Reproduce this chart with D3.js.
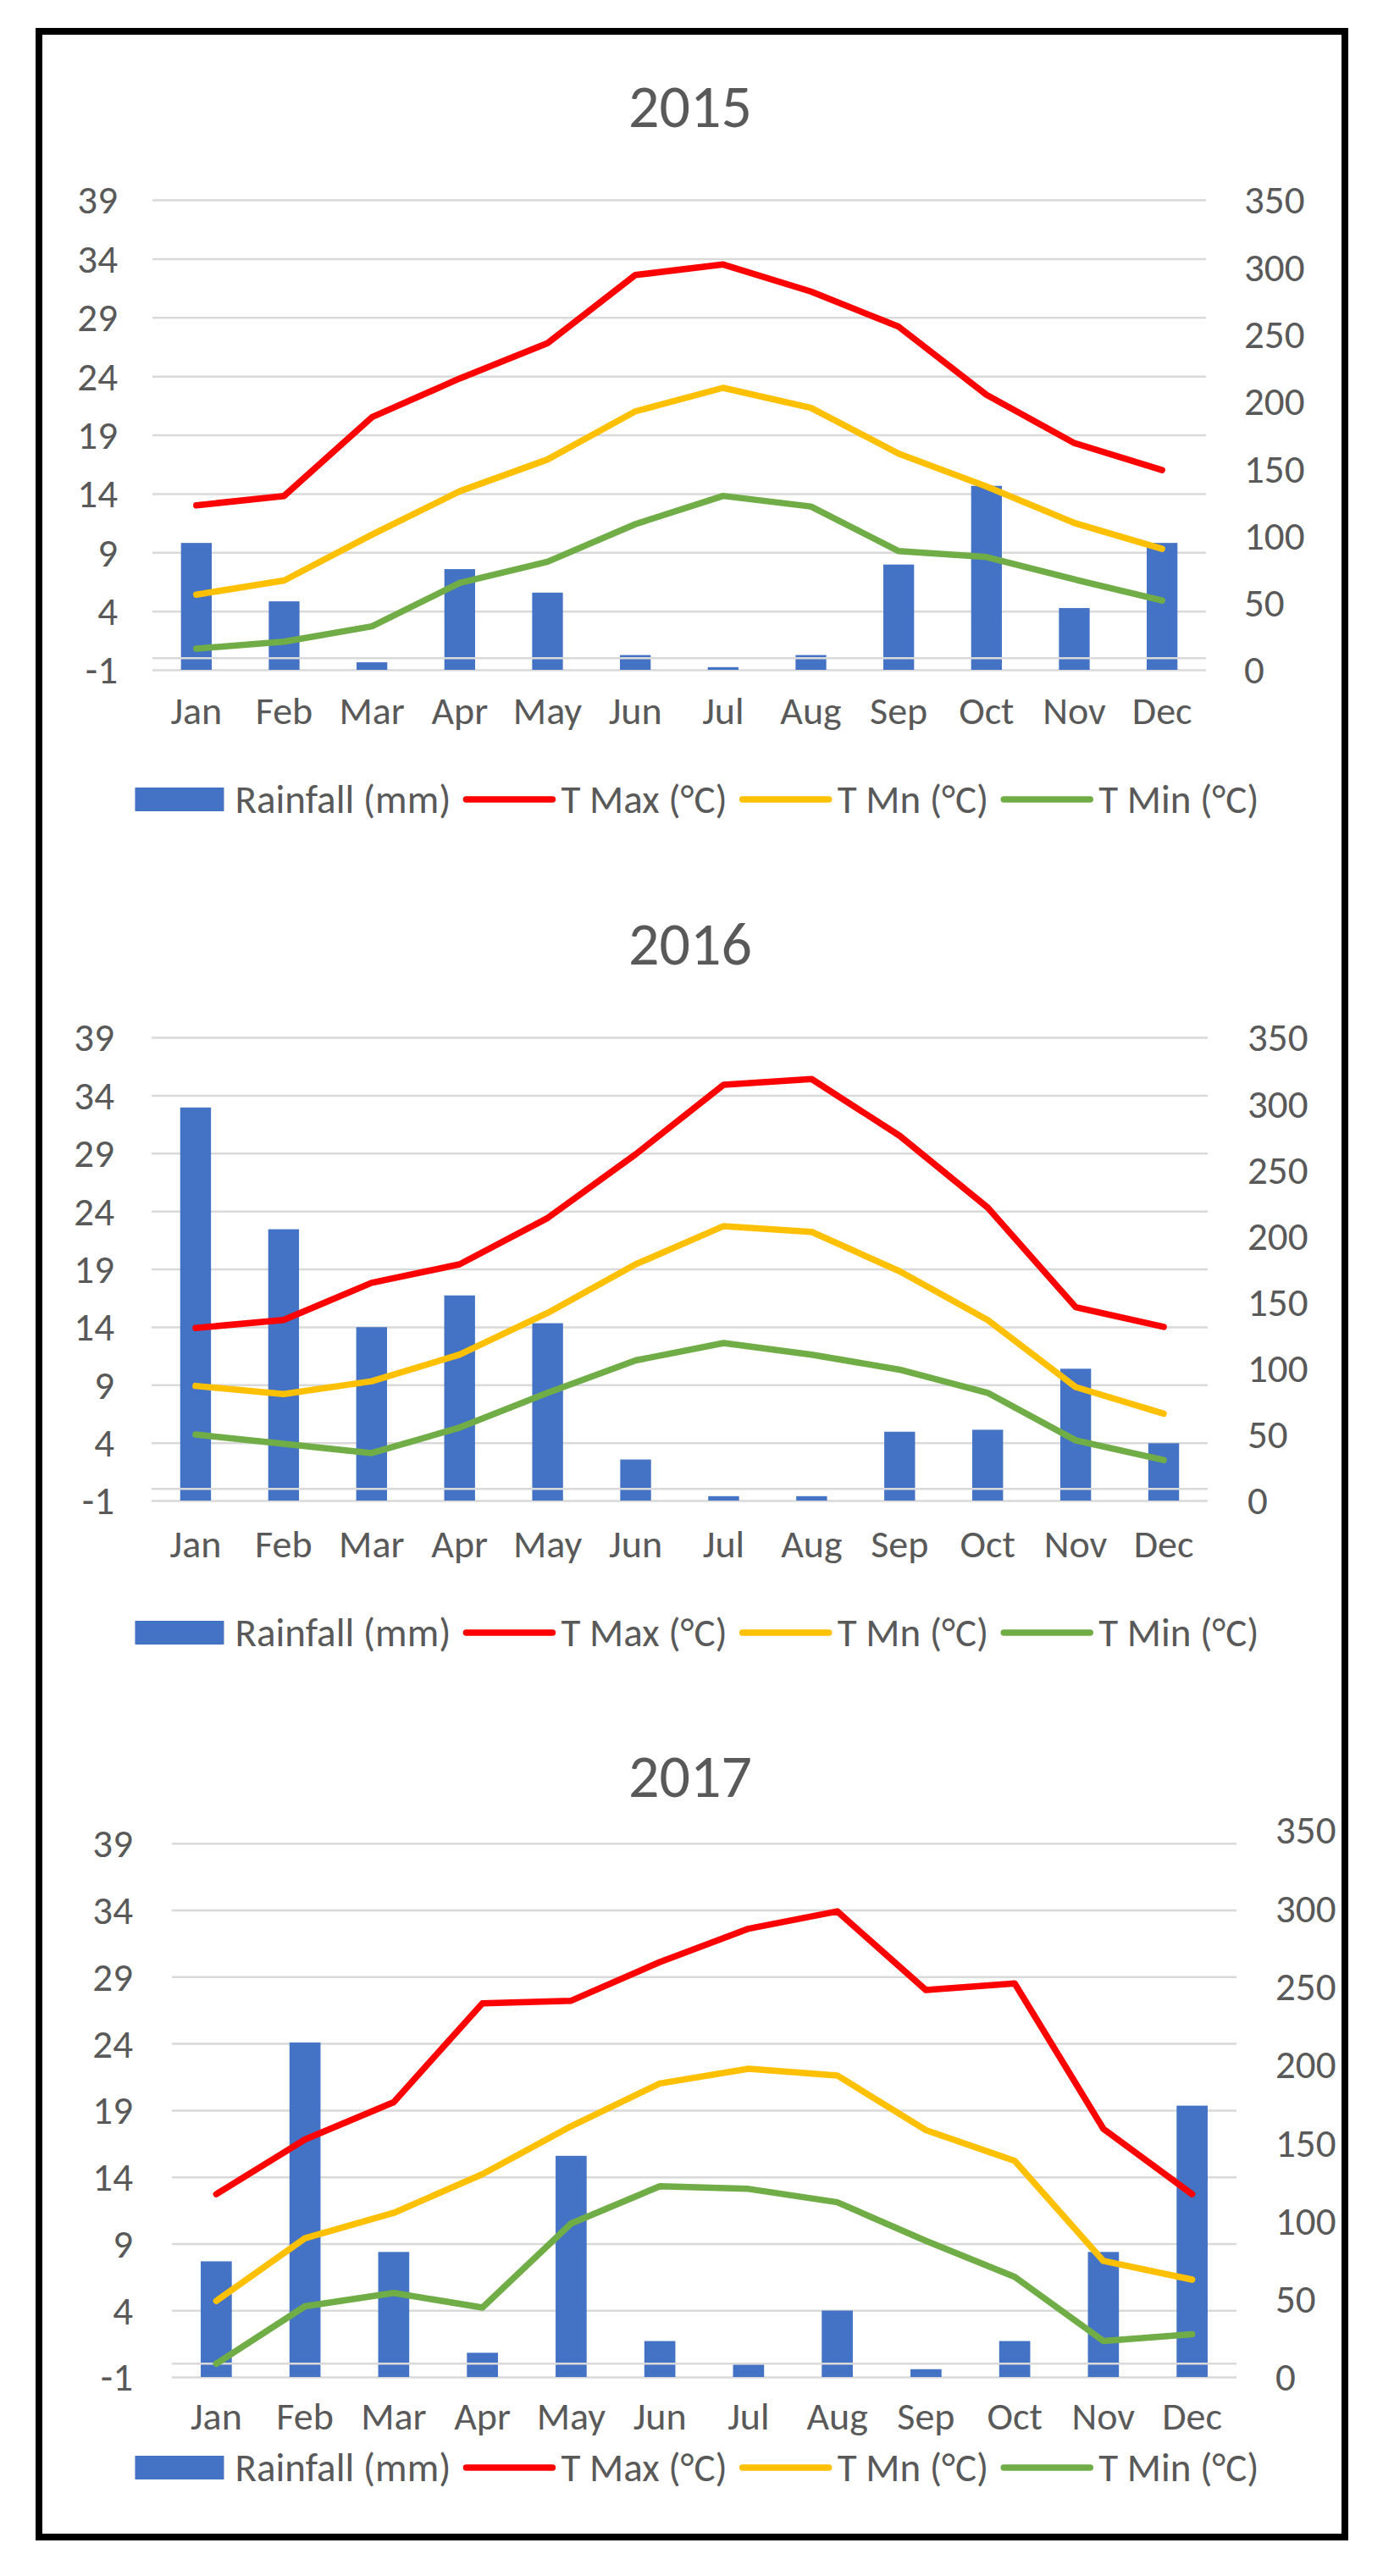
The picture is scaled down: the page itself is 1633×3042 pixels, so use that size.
<!DOCTYPE html>
<html>
<head>
<meta charset="utf-8">
<script src="https://cdn.jsdelivr.net/npm/d3@7"></script>
<style>
  body { margin: 0; background: #fff; }
  svg { display: block; }
  text { font-family: Calibri, Carlito, "Open Sans", sans-serif; fill: #595959; }
</style>
</head>
<body>
<script>
// monthly data
var months = ["Jan", "Feb", "Mar", "Apr", "May", "Jun", "Jul", "Aug", "Sep", "Oct", "Nov", "Dec"];
var years = ["2015", "2016", "2017"];

var rain2015 = [94.5, 51, 5.6, 75, 57.5, 11, 2, 11, 78.4, 137, 46, 94.5];
var tmax2015 = [13.0, 13.8, 20.5, 23.8, 26.8, 32.6, 33.5, 31.2, 28.2, 22.4, 18.3, 16.0];
var tmn2015  = [5.4, 6.6, 10.5, 14.2, 16.9, 21.0, 23.0, 21.3, 17.4, 14.6, 11.5, 9.3];
var tmin2015 = [0.8, 1.4, 2.7, 6.4, 8.2, 11.4, 13.8, 12.9, 9.1, 8.6, 6.7, 4.9];

var rain2016 = [297, 205, 131, 155, 134, 31, 3.3, 3.3, 52, 53.5, 99.6, 43.3];
var tmax2016 = [13.9, 14.6, 17.8, 19.4, 23.4, 28.9, 34.9, 35.4, 30.5, 24.3, 15.7, 14.0];
var tmn2016  = [8.9, 8.2, 9.3, 11.6, 15.2, 19.4, 22.7, 22.2, 18.8, 14.6, 8.8, 6.5];
var tmin2016 = [4.7, 3.9, 3.1, 5.3, 8.3, 11.1, 12.6, 11.6, 10.3, 8.3, 4.2, 2.5];

var rain2017 = [74, 214, 80, 15.5, 141.5, 23, 8, 42.5, 5, 23, 80, 173.6];
var tmax2017 = [12.7, 16.8, 19.6, 27.0, 27.2, 30.1, 32.6, 33.9, 28.0, 28.5, 17.6, 12.7];
var tmn2017  = [4.7, 9.4, 11.3, 14.2, 17.8, 21.0, 22.1, 21.6, 17.5, 15.2, 7.7, 6.3];
var tmin2017 = [0.0, 4.3, 5.3, 4.2, 10.5, 13.3, 13.1, 12.1, 9.2, 6.5, 1.7, 2.2];

var leftTicks = [-1, 4, 9, 14, 19, 24, 29, 34, 39];
var rightTicks = [0, 50, 100, 150, 200, 250, 300, 350];
var legendLabels = ["Rainfall (mm)", "T Max (°C)", "T Mn (°C)", "T Min (°C)"];

var barColor = "#4472C4";
var lineColors = ["#FF0000", "#FFC000", "#70AD47"];

var series = [
    { rain: rain2015, temps: [tmax2015, tmn2015, tmin2015], tMax: 39 },
    { rain: rain2016, temps: [tmax2016, tmn2016, tmin2016], tMax: 39 },
    { rain: rain2017, temps: [tmax2017, tmn2017, tmin2017], tMax: 40 }
];

// where each panel sits on the page
var panels = [
    { left: 180, right: 1424, top: 236,  bottom: 791,  titleY: 150,  catY: 839,  legY: 944,  labX: 139, rlabX: 1469 },
    { left: 179, right: 1426, top: 1225, bottom: 1772, titleY: 1139, catY: 1823, legY: 1928, labX: 135, rlabX: 1473 },
    { left: 203, right: 1460, top: 2161, bottom: 2807, titleY: 2122, catY: 2853, legY: 2914, labX: 157, rlabX: 1506 }
];

var W = 1633, H = 3042;
var tickFmt = function (d) { return String(d); }; // plain hyphen for -1

var svg = d3.select("body").append("svg")
    .attr("width", W)
    .attr("height", H);

svg.append("rect")
    .attr("x", 46).attr("y", 37)
    .attr("width", 1542).attr("height", 2959)
    .attr("fill", "none")
    .attr("stroke", "#000")
    .attr("stroke-width", 8);

function styleLabels(a, size) {
    a.select(".domain").remove();
    a.attr("font-family", null).attr("font-size", null);
    a.selectAll("text").attr("dy", "0.34em").style("font-size", size).attr("fill", null);
}

panels.forEach(function (p, i) {
    var s = series[i];
    var g = svg.append("g");

    var x = d3.scaleBand().domain(months).range([p.left, p.right]);
    var bw = x.bandwidth();
    var yT = d3.scaleLinear().domain([-1, s.tMax]).range([p.bottom, p.top]);
    var yR = d3.scaleLinear().domain([0, 350]).range([p.bottom, p.top]);

    // title
    g.append("text")
        .attr("x", 815)
        .attr("y", p.titleY)
        .attr("text-anchor", "middle")
        .style("font-size", "72px")
        .text(years[i]);

    // gridlines
    g.append("g")
        .attr("transform", "translate(" + p.left + ",0)")
        .call(d3.axisLeft(yT).tickValues(leftTicks).tickSize(-(p.right - p.left)).tickFormat(""))
        .call(function (a) { a.select(".domain").remove(); })
        .selectAll("line")
        .attr("stroke", "#D9D9D9")
        .attr("stroke-width", 2.5);

    // left axis labels
    g.append("g")
        .attr("transform", "translate(" + p.labX + ",0)")
        .call(d3.axisLeft(yT).tickValues(leftTicks).tickFormat(tickFmt).tickSize(0).tickPadding(0))
        .call(styleLabels, "47px");

    // right axis labels
    g.append("g")
        .attr("transform", "translate(" + p.rlabX + ",0)")
        .call(d3.axisRight(yR).tickValues(rightTicks).tickFormat(tickFmt).tickSize(0).tickPadding(0))
        .call(styleLabels, "47px");

    // rainfall bars on the secondary axis
    var barW = bw * 0.35;
    g.append("g").selectAll("rect")
        .data(s.rain)
        .join("rect")
        .attr("x", function (d, k) { return x(months[k]) + (bw - barW) / 2; })
        .attr("y", function (d) { return yR(d); })
        .attr("width", barW)
        .attr("height", function (d) { return yR(0) - yR(d); })
        .attr("fill", barColor);

    // category axis line sits at 0 on the primary axis
    g.append("line")
        .attr("x1", p.left).attr("x2", p.right)
        .attr("y1", yT(0)).attr("y2", yT(0))
        .attr("stroke", "#D9D9D9")
        .attr("stroke-width", 2.5);

    // temperature lines
    var line = d3.line()
        .x(function (d, k) { return x(months[k]) + bw / 2; })
        .y(function (d) { return yT(d); });

    s.temps.forEach(function (t, k) {
        g.append("path")
            .datum(t)
            .attr("d", line)
            .attr("fill", "none")
            .attr("stroke", lineColors[k])
            .attr("stroke-width", 7.5)
            .attr("stroke-linejoin", "round")
            .attr("stroke-linecap", "round");
    });

    // month labels
    g.append("g")
        .attr("transform", "translate(0," + p.catY + ")")
        .call(d3.axisBottom(x).tickSize(0).tickPadding(0))
        .call(styleLabels, "46px")
        .selectAll("text").attr("y", 0);

    // legend, laid out from measured text widths
    var leg = g.append("g");
    var cx = 0;
    legendLabels.forEach(function (lab, k) {
        if (k === 0) {
            leg.append("rect")
                .attr("x", cx).attr("y", p.legY - 14)
                .attr("width", 105).attr("height", 28)
                .attr("fill", barColor);
            cx += 105 + 13;
        } else {
            leg.append("line")
                .attr("x1", cx + 4).attr("x2", cx + 106)
                .attr("y1", p.legY).attr("y2", p.legY)
                .attr("stroke", lineColors[k - 1])
                .attr("stroke-width", 7.5)
                .attr("stroke-linecap", "round");
            cx += 110 + 6;
        }
        var tx = leg.append("text")
            .attr("x", cx)
            .attr("y", p.legY)
            .attr("dy", "0.34em")
            .style("font-size", "47px")
            .text(lab);
        cx += tx.node().getComputedTextLength() + 14;
    });
    var legW = cx - 14;
    leg.attr("transform", "translate(" + (823 - legW / 2) + ",0)");
});
</script>
</body>
</html>
